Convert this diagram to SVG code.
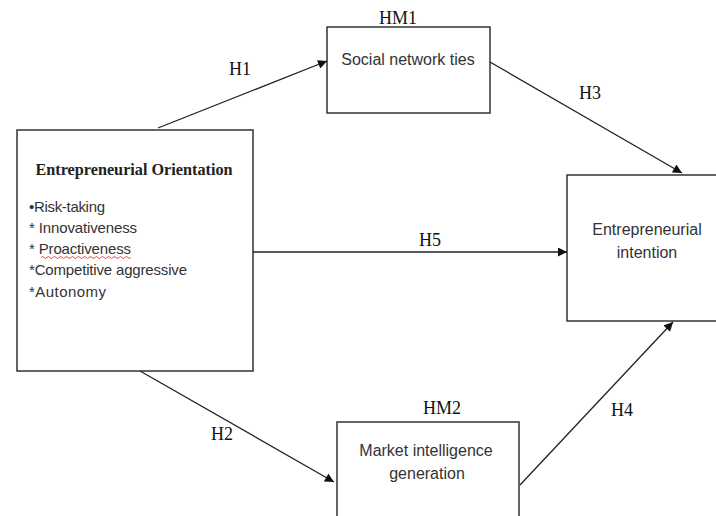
<svg xmlns="http://www.w3.org/2000/svg" width="716" height="516" viewBox="0 0 716 516">
<style>
.box{fill:#fff;stroke:#333;stroke-width:1.5}
.lbl{font-family:"Liberation Serif","Times New Roman",serif;font-size:18px;fill:#111;text-anchor:middle}
.txt{font-family:"Liberation Sans",Arial,sans-serif;font-size:16px;fill:#333}
.li{font-size:15px}
.c{text-anchor:middle}
.edge{stroke:#222;stroke-width:1.3;fill:none;marker-end:url(#ah)}
</style>
<defs>
<marker id="ah" viewBox="0 0 10 10" refX="10" refY="5" markerWidth="10" markerHeight="9" markerUnits="userSpaceOnUse" orient="auto">
<path d="M0,0 L10,5 L0,10 z" fill="#111"/>
</marker>
</defs>
<rect width="716" height="516" fill="#fff"/>
<g id="eo">
<rect class="box" x="17" y="130" width="236" height="241"/>
<text x="134" y="175" style="font-family:'Liberation Serif','Times New Roman',serif;font-weight:bold;font-size:17px;fill:#222" text-anchor="middle" textLength="197" lengthAdjust="spacingAndGlyphs">Entrepreneurial Orientation</text>
<text class="txt li" x="29" y="212" textLength="76">•Risk-taking</text>
<text class="txt li" x="29" y="233" textLength="108">* Innovativeness</text>
<text class="txt li" x="29" y="254" textLength="102">* Proactiveness</text>
<path d="M41,257.5 q1.5,-2 3,0 t3,0 t3,0 t3,0 t3,0 t3,0 t3,0 t3,0 t3,0 t3,0 t3,0 t3,0 t3,0 t3,0 t3,0 t3,0 t3,0 t3,0 t3,0 t3,0 t3,0 t3,0 t3,0 t3,0 t3,0 t3,0 t3,0 t3,0 t3,0 t3,0" fill="none" stroke="#d33" stroke-width="0.9"/>
<text class="txt li" x="29" y="275" textLength="158">*Competitive aggressive</text>
<text class="txt li" x="29" y="297" textLength="77">*Autonomy</text>
</g>
<g id="snt">
<rect class="box" x="327" y="27" width="163" height="86"/>
<text class="lbl" x="398" y="24">HM1</text>
<text class="txt c" x="408" y="65">Social network ties</text>
</g>
<g id="mig">
<rect class="box" x="337" y="422" width="182" height="110"/>
<text class="lbl" x="442" y="414">HM2</text>
<text class="txt c" x="426" y="456">Market intelligence</text>
<text class="txt c" x="427" y="479">generation</text>
</g>
<g id="ei">
<rect class="box" x="567" y="175" width="170" height="146"/>
<text class="txt c" x="647" y="235">Entrepreneurial</text>
<text class="txt c" x="647" y="258">intention</text>
</g>
<g id="connectors">
<line class="edge" x1="158" y1="128" x2="327" y2="61"/>
<line class="edge" x1="490" y1="62" x2="682" y2="173"/>
<line class="edge" x1="253" y1="252" x2="567" y2="252"/>
<line class="edge" x1="140" y1="371" x2="334" y2="482"/>
<line class="edge" x1="520" y1="485" x2="673" y2="322"/>
<text class="lbl" x="240" y="75">H1</text>
<text class="lbl" x="590" y="99">H3</text>
<text class="lbl" x="430" y="246">H5</text>
<text class="lbl" x="222" y="440">H2</text>
<text class="lbl" x="622" y="416">H4</text>
</g>
</svg>
